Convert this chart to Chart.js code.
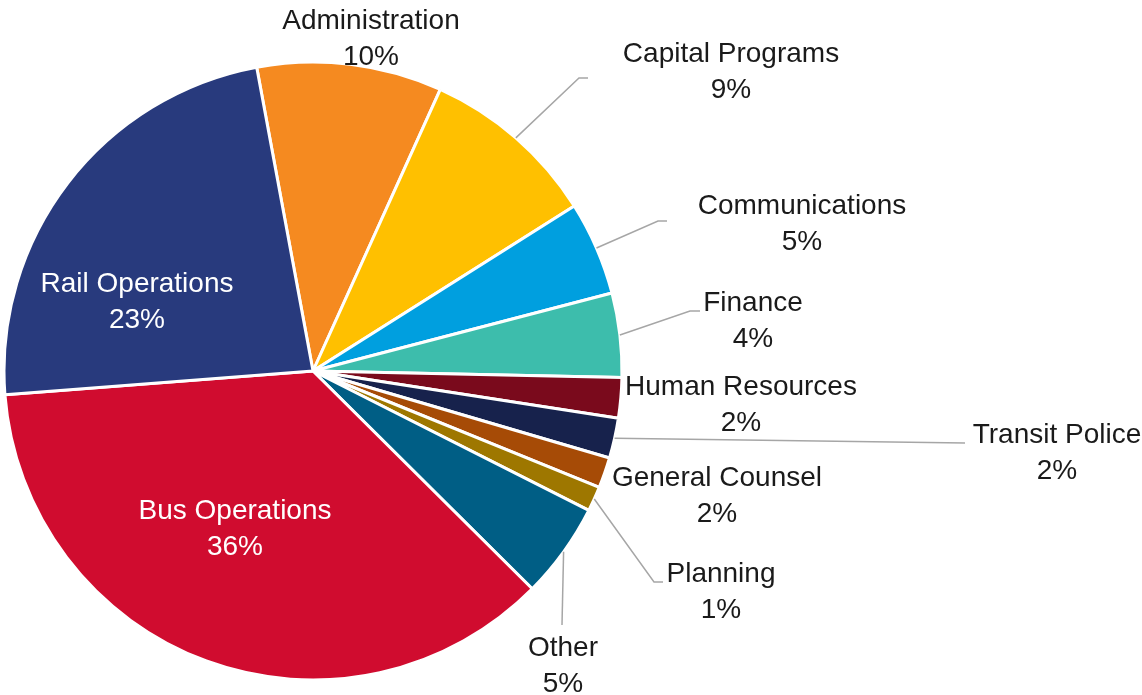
<!DOCTYPE html>
<html lang="en">
<head>
    <meta charset="UTF-8">
    <title>Budget by Department</title>
    <style>
        body { margin: 0; background: #fff; }
        #wrap { width: 1142px; height: 695px; position: relative; }
    </style>
</head>
<body>
<div id="wrap">
    <canvas id="pieChart"></canvas>
</div>

<script src="https://cdn.jsdelivr.net/npm/chart.js@4/dist/chart.umd.min.js"></script>
<script>

    // departments, clockwise from the top
    const departments = [
        'Administration', 'Capital Programs', 'Communications', 'Finance',
        'Human Resources', 'Transit Police', 'General Counsel', 'Planning',
        'Other', 'Bus Operations', 'Rail Operations'
    ];
    // share of the budget, percent
    const shares = [9.67, 9.27, 4.9, 4.4, 2.1, 2.1, 1.6, 1.3, 5.0, 36.3, 23.3];

    const sliceColors = [
        '#F58A20', '#FFC000', '#009FDF', '#3DBDAC',
        '#7A0A1C', '#17224C', '#A64B06', '#9E7700',
        '#005E85', '#D00C2F', '#283A7D'
    ];

    // where each label goes (x = text centre, y = first baseline) and its leader line
    const labelLayout = [
        { x: 371, y: 29 },
        { x: 731, y: 62, line: [[579, 78], [588, 78]] },
        { x: 802, y: 214, line: [[658, 221], [667, 221]] },
        { x: 753, y: 311, line: [[690, 311], [700, 311]] },
        { x: 741, y: 395 },
        { x: 1057, y: 443, line: [[965, 443]] },
        { x: 717, y: 486 },
        { x: 721, y: 582, line: [[654, 582], [663, 582]] },
        { x: 563, y: 656, line: [[562, 625]] },
        { x: 235, y: 519, color: '#fff' },
        { x: 137, y: 292, color: '#fff' }
    ];

    const total = shares.reduce((a, b) => a + b, 0);

    const sliceLabels = {
        id: 'sliceLabels',
        afterDraw(chart) {
            const ctx = chart.ctx;
            const arcs = chart.getDatasetMeta(0).data;
            ctx.save();
            ctx.font = '28px "Liberation Sans", Arial, sans-serif';
            ctx.textAlign = 'center';
            ctx.textBaseline = 'alphabetic';
            arcs.forEach((arc, i) => {
                const lay = labelLayout[i];
                if (lay.line) {
                    const p = arc.getProps(['x', 'y', 'startAngle', 'endAngle', 'outerRadius'], true);
                    const mid = (p.startAngle + p.endAngle) / 2;
                    ctx.beginPath();
                    ctx.moveTo(p.x + Math.cos(mid) * p.outerRadius, p.y + Math.sin(mid) * p.outerRadius);
                    lay.line.forEach(pt => ctx.lineTo(pt[0], pt[1]));
                    ctx.strokeStyle = '#A6A6A6';
                    ctx.lineWidth = 1.5;
                    ctx.stroke();
                }
                ctx.fillStyle = lay.color || '#1a1a1a';
                ctx.fillText(departments[i], lay.x, lay.y);
                ctx.fillText(Math.round(shares[i] / total * 100) + '%', lay.x, lay.y + 36);
            });
            ctx.restore();
        }
    };

    const ctx = document.getElementById('pieChart').getContext('2d');
    const chart = new Chart(ctx, {
        type: 'pie',
        data: {
            labels: departments,
            datasets: [{
                data: shares,
                backgroundColor: sliceColors,
                borderColor: '#fff',
                borderWidth: 3
            }]
        },
        options: {
            responsive: true,
            maintainAspectRatio: false,
            animation: false,
            rotation: -10.5,
            radius: 309,
            layout: { padding: { left: 0, right: 516, top: 47, bottom: 0 } },
            plugins: {
                legend: { display: false },
                tooltip: { enabled: false }
            }
        },
        plugins: [sliceLabels]
    });

</script>
</body>
</html>
